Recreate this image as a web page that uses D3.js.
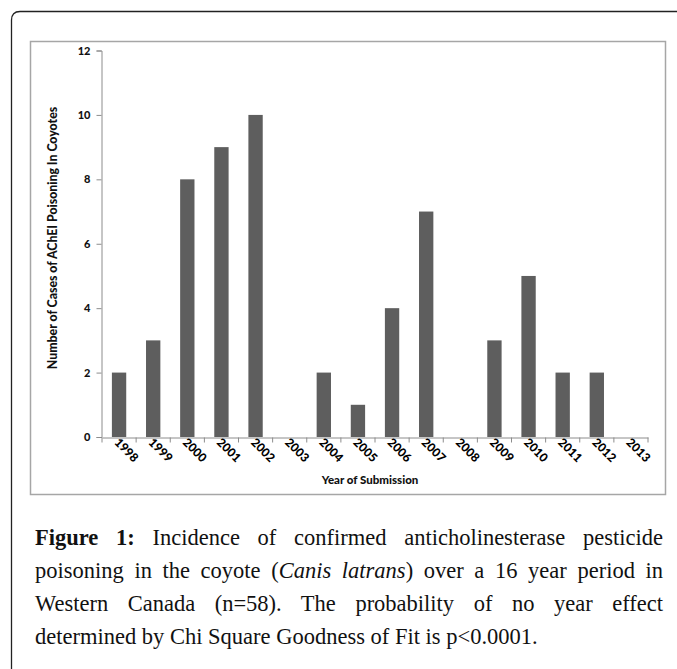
<!DOCTYPE html>
<html>
<head>
<meta charset="utf-8">
<script src="https://cdn.jsdelivr.net/npm/d3@7"></script>
<style>
  html, body { margin: 0; padding: 0; background: #fff; }
  #wrap { position: relative; width: 677px; height: 669px; overflow: hidden; }
  svg { position: absolute; left: 0; top: 0; }
  #caption { position: absolute; left: 35px; top: 521px; width: 628px;
    font-family: "Liberation Serif", "Times New Roman", serif; font-size: 22.5px;
    line-height: 33px; color: #111; }
  #caption .ln { display: block; text-align: justify; text-align-last: justify; white-space: nowrap; }
  #caption .ln.last { text-align-last: left; }
  #caption b { font-weight: bold; }
</style>
</head>
<body>
<div id="wrap">
<svg id="chart" width="677" height="669"></svg>
<div id="caption"></div>
</div>
<script>
const years = ["1998","1999","2000","2001","2002","2003","2004","2005","2006","2007","2008","2009","2010","2011","2012","2013"];
const cases = [2,3,8,9,10,0,2,1,4,7,0,3,5,2,2,0];
const yTicks = [0,2,4,6,8,10,12];
const yTitle = "Number of Cases of AChEI Poisoning In Coyotes";
const xTitle = "Year of Submission";
const captionLines = [
  ["<b>Figure 1:</b> Incidence of confirmed anticholinesterase pesticide"],
  ["poisoning in the coyote (<i>Canis latrans</i>) over a 16 year period in"],
  ["Western Canada (n=58). The probability of no year effect"],
  ["determined by Chi Square Goodness of Fit is p<0.0001."]
];

const svg = d3.select("#chart");
const font = "Lato, 'Liberation Sans', sans-serif";

// outer border
svg.append("path")
  .attr("d", "M11.5,669 L11.5,20 Q11.5,11.5 20,11.5 L677,11.5")
  .attr("fill", "none").attr("stroke", "#222").attr("stroke-width", 1.3);

// chart frame
svg.append("rect")
  .attr("x", 30.5).attr("y", 41.5).attr("width", 635).attr("height", 453)
  .attr("fill", "none").attr("stroke", "#a6a6a6").attr("stroke-width", 1.5);

const x = d3.scaleBand().domain(years).range([102, 648]).paddingInner(0.58).paddingOuter(0.29);
const xb = d3.scaleBand().domain(years).range([102, 648]);
const y = d3.scaleLinear().domain([0, 12]).range([437, 50.5]);

// bars
svg.append("g").selectAll("rect").data(years).join("rect")
  .attr("x", d => x(d))
  .attr("width", x.bandwidth())
  .attr("y", (d, i) => y(cases[i]))
  .attr("height", (d, i) => y(0) - y(cases[i]))
  .attr("fill", "#5e5e5e");

// y axis
const yAxis = svg.append("g").attr("transform", "translate(101.5,0)")
  .call(d3.axisLeft(y).tickValues(yTicks).tickSize(5).tickPadding(6));
yAxis.select(".domain").attr("stroke", "#8c8c8c");
yAxis.selectAll(".tick line").attr("stroke", "#8c8c8c");
yAxis.selectAll("text").attr("font-family", font).attr("font-weight", "900")
  .attr("font-size", 11).attr("fill", "#111");

// x axis
const xAxis = svg.append("g").attr("transform", "translate(0,437.5)")
  .call(d3.axisBottom(xb).tickSize(0).tickFormat(""));
xAxis.select(".domain").attr("stroke", "#8c8c8c");
svg.append("g").selectAll("line").data(d3.range(years.length + 1)).join("line")
  .attr("x1", i => 102 + i * xb.step()).attr("x2", i => 102 + i * xb.step())
  .attr("y1", 437.5).attr("y2", 442.5).attr("stroke", "#8c8c8c");

svg.append("g").selectAll("text").data(years).join("text")
  .attr("transform", d => `translate(${xb(d) + xb.bandwidth() / 2 + 7.5},${450}) rotate(45)`)
  .attr("text-anchor", "middle").attr("dy", "0.35em")
  .attr("font-family", font).attr("font-weight", "900").attr("font-size", 12)
  .attr("fill", "#000")
  .text(d => d);

// titles
svg.append("text")
  .attr("transform", `translate(53,${238}) rotate(-90)`)
  .attr("text-anchor", "middle").attr("dy", "0.35em")
  .attr("font-family", font).attr("font-weight", "900").attr("font-size", 12.3)
  .attr("fill", "#111").text(yTitle);

svg.append("text")
  .attr("x", 370).attr("y", 480).attr("text-anchor", "middle").attr("dy", "0.35em")
  .attr("font-family", font).attr("font-weight", "900").attr("font-size", 11.5)
  .attr("fill", "#111").text(xTitle);

// caption
d3.select("#caption").selectAll("span").data(captionLines).join("span")
  .attr("class", (d, i) => "ln" + (i === captionLines.length - 1 ? " last" : ""))
  .html(d => d[0].replace("p<0", "p&lt;0"));
</script>
</body>
</html>
